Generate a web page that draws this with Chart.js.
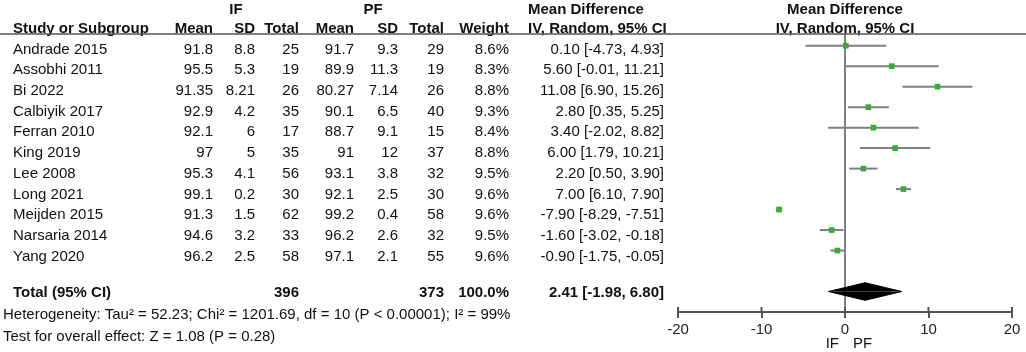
<!DOCTYPE html>
<html>
<head>
<meta charset="utf-8">
<script src="https://cdn.jsdelivr.net/npm/chart.js@4/dist/chart.umd.min.js"></script>
<style>
  body { margin: 0; background: #fff; }
  #wrap { width: 1026px; height: 352px; }
</style>
</head>
<body>
<div id="wrap"><canvas id="forest" width="1026" height="352"></canvas></div>
<script>
const studies = ['Andrade 2015','Assobhi 2011','Bi 2022','Calbiyik 2017','Ferran 2010','King 2019','Lee 2008','Long 2021','Meijden 2015','Narsaria 2014','Yang 2020'];
const ifMean  = [91.8, 95.5, 91.35, 92.9, 92.1, 97, 95.3, 99.1, 91.3, 94.6, 96.2];
const ifSD    = [8.8, 5.3, 8.21, 4.2, 6, 5, 4.1, 0.2, 1.5, 3.2, 2.5];
const ifTotal = [25, 19, 26, 35, 17, 35, 56, 30, 62, 33, 58];
const pfMean  = [91.7, 89.9, 80.27, 90.1, 88.7, 91, 93.1, 92.1, 99.2, 96.2, 97.1];
const pfSD    = [9.3, 11.3, 7.14, 6.5, 9.1, 12, 3.8, 2.5, 0.4, 2.6, 2.1];
const pfTotal = [29, 19, 26, 40, 15, 37, 32, 30, 58, 32, 55];
const weight  = [8.6, 8.3, 8.8, 9.3, 8.4, 8.8, 9.5, 9.6, 9.6, 9.5, 9.6];
const md      = [0.10, 5.60, 11.08, 2.80, 3.40, 6.00, 2.20, 7.00, -7.90, -1.60, -0.90];
const ciLow   = [-4.73, -0.01, 6.90, 0.35, -2.02, 1.79, 0.50, 6.10, -8.29, -3.02, -1.75];
const ciHigh  = [4.93, 11.21, 15.26, 5.25, 8.82, 10.21, 3.90, 7.90, -7.51, -0.18, -0.05];

const totalIF = 396, totalPF = 373;
const totalMD = 2.41, totalLow = -1.98, totalHigh = 6.80;
const heterogeneity = 'Heterogeneity: Tau\u00b2 = 52.23; Chi\u00b2 = 1201.69, df = 10 (P < 0.00001); I\u00b2 = 99%';
const overallTest = 'Test for overall effect: Z = 1.08 (P = 0.28)';
const xTicks = [-20, -10, 0, 10, 20];

const totalRow = 12;
const FONT = '"Liberation Sans", Arial, sans-serif';
const ciText = (m, l, h) => m.toFixed(2) + ' [' + l.toFixed(2) + ', ' + h.toFixed(2) + ']';

// one thin line per study for the CI
const ciSets = studies.map((s, i) => ({
  type: 'scatter', showLine: true,
  data: [{x: ciLow[i], y: i}, {x: ciHigh[i], y: i}],
  borderColor: '#7f7f7f', borderWidth: 2, pointRadius: 0
}));

const diamondH = 0.43;
const diamondTop = {
  type: 'scatter', showLine: true,
  data: [{x: totalLow, y: totalRow}, {x: totalMD, y: totalRow - diamondH}, {x: totalHigh, y: totalRow}],
  borderColor: '#000', backgroundColor: '#000', borderWidth: 1, pointRadius: 0,
  fill: {value: totalRow}, tension: 0
};
const diamondBottom = Object.assign({}, diamondTop, {
  data: [{x: totalLow, y: totalRow}, {x: totalMD, y: totalRow + diamondH}, {x: totalHigh, y: totalRow}]
});

const squares = {
  type: 'scatter',
  data: studies.map((s, i) => ({x: md[i], y: i})),
  pointStyle: 'rect', pointRadius: 4, pointHoverRadius: 4,
  backgroundColor: '#14c014', borderColor: '#14c014', borderWidth: 0
};

const tablePlugin = {
  id: 'forestTable',
  afterDraw(chart) {
    const ctx = chart.ctx;
    const area = chart.chartArea;
    const xs = chart.scales.x;
    const txt = (s, x, y, align, bold) => {
      ctx.font = (bold ? 'bold ' : '') + '15px ' + FONT;
      ctx.textAlign = align;
      ctx.textBaseline = 'middle';
      ctx.fillStyle = '#111';
      ctx.fillText(s, x, y);
    };
    ctx.save();
    // header
    txt('IF', 236, 10, 'center', true);
    txt('PF', 373, 10, 'center', true);
    txt('Mean Difference', 528, 10, 'left', true);
    txt('Mean Difference', xs.getPixelForValue(0), 10, 'center', true);
    txt('Study or Subgroup', 13, 28.5, 'left', true);
    txt('Mean', 213, 28.5, 'right', true);
    txt('SD', 255, 28.5, 'right', true);
    txt('Total', 299, 28.5, 'right', true);
    txt('Mean', 354, 28.5, 'right', true);
    txt('SD', 398, 28.5, 'right', true);
    txt('Total', 444, 28.5, 'right', true);
    txt('Weight', 509, 28.5, 'right', true);
    txt('IV, Random, 95% CI', 528, 28.5, 'left', true);
    txt('IV, Random, 95% CI', xs.getPixelForValue(0), 28.5, 'center', true);
    ctx.strokeStyle = '#555';
    ctx.lineWidth = 1.5;
    ctx.beginPath();
    ctx.moveTo(0, area.top + 1);
    ctx.lineTo(1026, area.top + 1);
    ctx.stroke();

    // study rows
    studies.forEach((s, i) => {
      const y = 49.5 + 20.7 * i;
      txt(s, 13, y, 'left');
      txt(String(ifMean[i]), 213, y, 'right');
      txt(String(ifSD[i]), 255, y, 'right');
      txt(String(ifTotal[i]), 299, y, 'right');
      txt(String(pfMean[i]), 354, y, 'right');
      txt(String(pfSD[i]), 398, y, 'right');
      txt(String(pfTotal[i]), 444, y, 'right');
      txt(weight[i].toFixed(1) + '%', 509, y, 'right');
      txt(ciText(md[i], ciLow[i], ciHigh[i]), 664, y, 'right');
    });

    // totals
    txt('Total (95% CI)', 13, 292.5, 'left', true);
    txt(String(totalIF), 299, 292.5, 'right', true);
    txt(String(totalPF), 444, 292.5, 'right', true);
    txt('100.0%', 509, 292.5, 'right', true);
    txt(ciText(totalMD, totalLow, totalHigh), 664, 292.5, 'right', true);
    txt(heterogeneity, 3, 315, 'left');
    txt(overallTest, 3, 336.5, 'left');

    // upward tick stubs so ticks cross the axis
    ctx.strokeStyle = '#555';
    ctx.lineWidth = 2;
    xTicks.forEach(v => {
      const px = xs.getPixelForValue(v);
      ctx.beginPath();
      ctx.moveTo(px, area.bottom - 5);
      ctx.lineTo(px, area.bottom);
      ctx.stroke();
    });

    // favours labels
    const zero = xs.getPixelForValue(0);
    txt('IF', zero - 6, 344, 'right');
    txt('PF', zero + 8, 344, 'left');
    ctx.restore();
  }
};

new Chart(document.getElementById('forest'), {
  type: 'scatter',
  data: { datasets: [...ciSets, diamondTop, diamondBottom, squares] },
  options: {
    responsive: false,
    animation: false,
    layout: { padding: { left: 678, right: 14, top: 33, bottom: 10 } },
    plugins: { legend: { display: false }, tooltip: { enabled: false } },
    scales: {
      x: {
        type: 'linear', min: -20, max: 20,
        afterBuildTicks: axis => { axis.ticks = xTicks.map(v => ({value: v})); },
        ticks: { color: '#222', font: { family: FONT, size: 15 }, padding: 3 },
        grid: {
          drawOnChartArea: true,
          color: c => (c.tick && c.tick.value === 0) ? '#808080' : 'rgba(0,0,0,0)',
          lineWidth: 2,
          tickColor: '#555', tickLength: 6
        },
        border: { display: true, color: '#555', width: 2 }
      },
      y: { type: 'linear', min: -0.62, max: 13, reverse: true, display: false }
    }
  },
  plugins: [tablePlugin]
});
</script>
</body>
</html>
